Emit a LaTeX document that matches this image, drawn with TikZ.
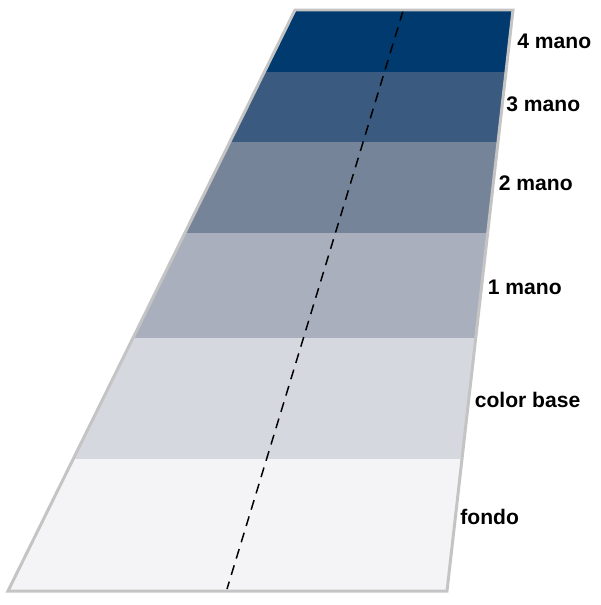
\documentclass[tikz,border=0pt]{standalone}
\usepackage{fontspec}
\setmainfont{Liberation Sans}
\definecolor{manofour}{HTML}{003A6E}
\definecolor{manothree}{HTML}{3B5A7F}
\definecolor{manotwo}{HTML}{768499}
\definecolor{manoone}{HTML}{A9AFBC}
\definecolor{colorbase}{HTML}{D5D8DE}
\definecolor{fondo}{HTML}{F4F4F6}
\definecolor{rim}{HTML}{C4C4C4}
\tikzset{
  coat/.style={anchor=base west, inner sep=0pt, font=\fontsize{12}{14}\selectfont\bfseries},
  rimline/.style={draw=rim, line width=1.7pt, line join=miter},
  axisline/.style={line width=0.85pt, dash pattern=on 5.7pt off 4pt}
}
\begin{document}
\begin{tikzpicture}[x=0.02cm, y=-0.02cm]
      \useasboundingbox (0, 0) rectangle (600, 605);
      \fill[manofour]  (295, 10) -- (513, 10) -- (506, 72) -- (264.4, 72) -- cycle;
      \fill[manothree] (264.4, 72) -- (506, 72) -- (498, 142) -- (229.8, 142) -- cycle;
      \fill[manotwo]   (229.8, 142) -- (498, 142) -- (487.7, 233) -- (184.8, 233) -- cycle;
      \fill[manoone]   (184.8, 233) -- (487.7, 233) -- (475.7, 338) -- (133, 338) -- cycle;
      \fill[colorbase] (133, 338) -- (475.7, 338) -- (462, 459) -- (73.2, 459) -- cycle;
      \fill[fondo]     (73.2, 459) -- (462, 459) -- (447, 591) -- (8, 591) -- cycle;
      \coordinate (top) at (403, 11);
      \coordinate (bottom) at (227, 589);
      \draw[axisline] (top) -- (bottom);
      \draw[rimline] (295, 10) -- (513, 10) -- (447, 591) -- (8, 591) -- cycle;
      \node (m4) [coat] at (517, 48.3) {4 mano};
      \node (m3) [coat] at (506, 111.7) {3 mano};
      \node (m2) [coat] at (498.5, 190.7) {2 mano};
      \node (m1) [coat] at (487.5, 294) {1 mano};
      \node (base) [coat] at (474.5, 407) {color base};
      \node (bg) [coat] at (460, 524) {fondo};
\end{tikzpicture}
\end{document}
